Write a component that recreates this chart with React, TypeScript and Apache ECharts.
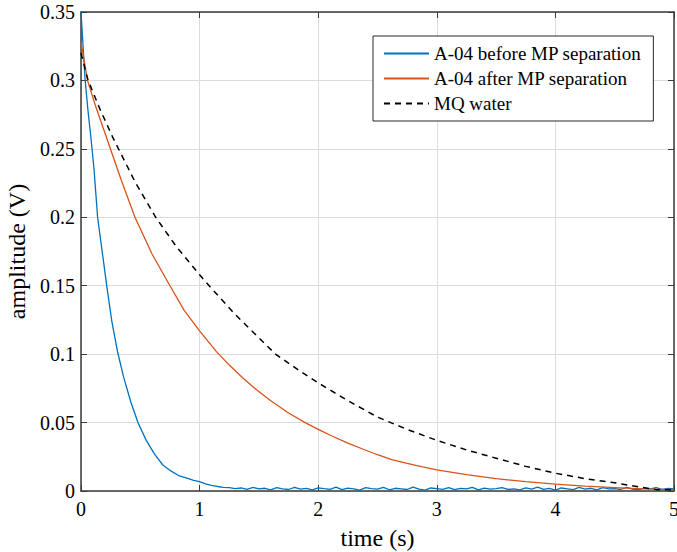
import React, { useEffect, useRef } from "react";
import * as echarts from "echarts";

const seriesNames = ["A-04 before MP separation", "A-04 after MP separation", "MQ water"];
const seriesColors = ["#0072BD", "#D95319", "#000000"];

const xTicks = [0, 1, 2, 3, 4, 5];
const yTicks = [0, 0.05, 0.1, 0.15, 0.2, 0.25, 0.3, 0.35];

const blueT = [
  0, 0.035, 0.06, 0.085, 0.11, 0.14, 0.18, 0.22, 0.26, 0.31, 0.36, 0.42, 0.48, 0.55, 0.62, 0.69, 0.76, 0.83, 0.9, 0.95, 1.0,
  1.05, 1.1, 1.15, 1.2,
  1.25, 1.3, 1.35, 1.4, 1.45, 1.5, 1.55, 1.6, 1.65, 1.7,
  1.75, 1.8, 1.85, 1.9, 1.95, 2.0, 2.05, 2.1, 2.15, 2.2,
  2.25, 2.3, 2.35, 2.4, 2.45, 2.5, 2.55, 2.6, 2.65, 2.7,
  2.75, 2.8, 2.85, 2.9, 2.95, 3.0, 3.05, 3.1, 3.15, 3.2,
  3.25, 3.3, 3.35, 3.4, 3.45, 3.5, 3.55, 3.6, 3.65, 3.7,
  3.75, 3.8, 3.85, 3.9, 3.95, 4.0, 4.05, 4.1, 4.15, 4.2,
  4.25, 4.3, 4.35, 4.4, 4.45, 4.5, 4.55, 4.6, 4.65, 4.7,
  4.75, 4.8, 4.85, 4.9, 4.95, 5.0,
];
const blueV = [
  0.35, 0.3, 0.277, 0.257, 0.235, 0.2, 0.174, 0.148, 0.124, 0.101, 0.083, 0.065, 0.05, 0.037, 0.027, 0.019, 0.0145, 0.011, 0.0092, 0.0078, 0.0068,
  0.0052, 0.0041, 0.0033, 0.0027,
  0.0025, 0.0018, 0.0022, 0.0012, 0.0026, 0.0015, 0.002, 0.0009, 0.0024, 0.0016,
  0.0011, 0.0027, 0.0014, 0.0019, 0.0008, 0.0023, 0.0017, 0.0012, 0.0028, 0.001,
  0.0021, 0.0015, 0.0006, 0.0024, 0.0018, 0.0013, 0.0026, 0.0009, 0.002, 0.0016,
  0.0011, 0.0029, 0.0014, 0.0007, 0.0022, 0.0017, 0.0012, 0.0025, 0.001, 0.0019,
  0.0015, 0.0027, 0.0008, 0.0021, 0.0013, 0.0018, 0.0024, 0.0011, 0.0016, 0.0009,
  0.0023, 0.0014, 0.0028, 0.0012, 0.0019, 0.0007, 0.0022, 0.0016, 0.001, 0.0026,
  0.0013, 0.002, 0.0008, 0.0024, 0.0015, 0.0018, 0.0011, 0.0027, 0.0014, 0.0009,
  0.0021, 0.0016, 0.0025, 0.0012, 0.0019, 0.0015,
];

const orangeT = [
  0, 0.055, 0.12, 0.22, 0.34, 0.455, 0.6, 0.75, 0.87, 1.0, 1.14, 1.25, 1.36, 1.48, 1.6, 1.75, 1.89, 2.0, 2.12, 2.25,
  2.38, 2.5, 2.62, 2.75, 2.88, 3.0, 3.25, 3.5, 3.75, 4.0, 4.25, 4.5, 4.75, 5.0,
];
const orangeV = [
  0.328, 0.3, 0.282, 0.257, 0.227, 0.2, 0.173, 0.15, 0.132, 0.117, 0.102, 0.092, 0.083, 0.074, 0.066, 0.057, 0.05, 0.045, 0.04, 0.035,
  0.0305, 0.0265, 0.023, 0.0202, 0.0176, 0.0155, 0.012, 0.009, 0.0068, 0.005, 0.0035, 0.0025, 0.0015, 0.001,
];

const blackT = [
  0, 0.06, 0.16, 0.27, 0.455, 0.63, 0.8, 1.0, 1.07, 1.3, 1.64, 1.84, 2.0, 2.25, 2.5, 2.75, 3.0, 3.25, 3.5, 3.75,
  4.0, 4.25, 4.5, 4.7, 4.85, 5.0,
];
const blackV = [
  0.32, 0.3, 0.279, 0.258, 0.226, 0.2, 0.179, 0.158, 0.151, 0.129, 0.1, 0.088, 0.079, 0.066, 0.054, 0.045, 0.037, 0.03, 0.024, 0.018,
  0.013, 0.009, 0.006, 0.003, 0.001, 0.001,
];

const zip = (t: number[], v: number[]) => t.map((x, i) => [x, v[i]]);

const FONT = "Liberation Serif";
const AXIS_COLOR = "#3a3a3a";

export default function App() {
  const ref = useRef<HTMLDivElement>(null);
  useEffect(() => {
    if (!ref.current) return;
    const chart = echarts.init(ref.current, undefined, { renderer: "svg" });
    const tickCommon = { show: true, inside: true, length: 6, lineStyle: { color: AXIS_COLOR, width: 1 } };
    const lineCommon = { show: true, onZero: false, lineStyle: { color: AXIS_COLOR, width: 1.5 } };
    chart.setOption({
      animation: false,
      backgroundColor: "#ffffff",
      textStyle: { fontFamily: FONT },
      grid: { left: 81, right: 3, top: 12, bottom: 61, containLabel: false, outerBoundsMode: "none" },
      legend: {
        show: true,
        data: seriesNames,
        orient: "vertical",
        left: 373,
        top: 36,
        padding: [8, 12, 8, 10],
        itemGap: 6,
        itemWidth: 45,
        itemHeight: 14,
        backgroundColor: "#ffffff",
        borderColor: "#262626",
        borderWidth: 1,
        borderRadius: 0,
        itemStyle: { opacity: 0 },
        textStyle: { fontFamily: FONT, fontSize: 19, color: "#000" },
      },
      xAxis: [
        {
          type: "value",
          min: xTicks[0],
          max: xTicks[xTicks.length - 1],
          interval: 1,
          position: "bottom",
          name: "time (s)",
          nameLocation: "middle",
          nameGap: 35,
          nameTextStyle: { fontFamily: FONT, fontSize: 24, color: "#000" },
          axisLine: lineCommon,
          axisTick: tickCommon,
          axisLabel: { fontFamily: FONT, fontSize: 20, color: "#000", margin: 8 },
          splitLine: { show: true, lineStyle: { color: "#dcdcdc", width: 1 } },
        },
        {
          type: "value",
          min: xTicks[0],
          max: xTicks[xTicks.length - 1],
          interval: 1,
          position: "top",
          axisLine: lineCommon,
          axisTick: tickCommon,
          axisLabel: { show: false },
          splitLine: { show: false },
        },
      ],
      yAxis: [
        {
          type: "value",
          min: yTicks[0],
          max: yTicks[yTicks.length - 1],
          interval: 0.05,
          position: "left",
          name: "amplitude (V)",
          nameLocation: "middle",
          nameGap: 50,
          nameTextStyle: { fontFamily: FONT, fontSize: 24, color: "#000" },
          axisLine: lineCommon,
          axisTick: tickCommon,
          axisLabel: { fontFamily: FONT, fontSize: 20, color: "#000", margin: 6 },
          splitLine: { show: true, lineStyle: { color: "#dcdcdc", width: 1 } },
        },
        {
          type: "value",
          min: yTicks[0],
          max: yTicks[yTicks.length - 1],
          interval: 0.05,
          position: "right",
          axisLine: lineCommon,
          axisTick: tickCommon,
          axisLabel: { show: false },
          splitLine: { show: false },
        },
      ],
      series: [
        {
          name: seriesNames[0],
          type: "line",
          data: zip(blueT, blueV),
          showSymbol: false,
          symbol: "none",
          lineStyle: { color: seriesColors[0], width: 1.3 },
          itemStyle: { color: seriesColors[0] },
          z: 3,
        },
        {
          name: seriesNames[1],
          type: "line",
          data: zip(orangeT, orangeV),
          showSymbol: false,
          symbol: "none",
          lineStyle: { color: seriesColors[1], width: 1.3 },
          itemStyle: { color: seriesColors[1] },
          z: 3,
        },
        {
          name: seriesNames[2],
          type: "line",
          data: zip(blackT, blackV),
          showSymbol: false,
          symbol: "none",
          lineStyle: { color: seriesColors[2], width: 1.5, type: [6, 5] },
          itemStyle: { color: seriesColors[2] },
          z: 3,
        },
      ],
    });
    return () => chart.dispose();
  }, []);
  return <div ref={ref} style={{ width: 677, height: 552, position: "absolute", left: 0, top: 0 }} />;
}
